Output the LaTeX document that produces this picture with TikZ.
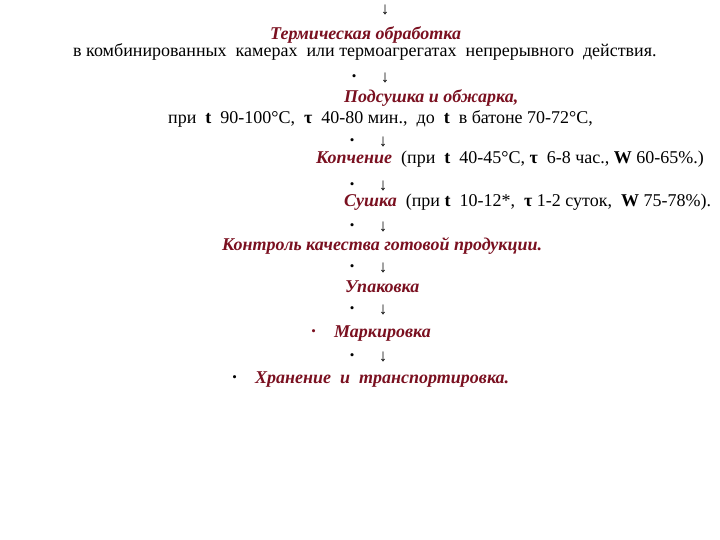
\documentclass[tikz,border=0pt]{standalone}
\usepackage{fontspec}
\setmainfont{Liberation Serif}
\usetikzlibrary{positioning}
\definecolor{maroon}{RGB}{122,16,32}
\tikzstyle{head} = [font=\fontsize{18}{20}\selectfont\bfseries\itshape, text=maroon, inner sep=0pt]
\tikzstyle{plain} = [font=\fontsize{18}{20}\selectfont, inner sep=0pt]
\tikzstyle{down} = [font=\fontsize{17}{19}\selectfont, inner sep=0pt]
\tikzstyle{dot} = [font=\fontsize{13}{15}\selectfont, inner sep=0pt, node distance=24pt]

\begin{document}
\begin{tikzpicture}[x=1pt, y=-1pt]
    \useasboundingbox (0,0) rectangle (720,540);
    \node [down] (a0) at (385,10) {↓};
    \node [head, anchor=base west] (T) at (270,40) {Термическая обработка};
    \node [plain, anchor=base west] (Tc) at (73,57) {в комбинированных\ \ камерах\ \ или термоагрегатах\ \ непрерывного\ \ действия.};
	%% Подсушка
    \node [down] (a1) at (385,78) {↓};
    \node [dot, left=of a1] (b1) {•};
    \node [head, anchor=base west] (P) at (344,103) {Подсушка и обжарка,};
    \node [plain, anchor=base west] (Pc) at (168,124) {при\ \ \textbf{t}\ \ 90-100°C,\ \ \textbf{τ}\ \ 40-80 мин.,\ \ до\ \ \textbf{t}\ \ в батоне 70-72°C,};
	%% Копчение
    \node [down] (a2) at (383,142) {↓};
    \node [dot, left=of a2] (b2) {•};
    \node [plain, anchor=base west] (K) at (316,164) {\textcolor{maroon}{\textbf{\textit{Копчение}}}\ \ (при\ \ \textbf{t}\ \ 40-45°C, \textbf{τ}\ \ 6-8 час., \textbf{W} 60-65\%.)};
	%% Сушка
    \node [down] (a3) at (383,186) {↓};
    \node [dot, left=of a3] (b3) {•};
    \node [plain, anchor=base west] (S) at (344,207) {\textcolor{maroon}{\textbf{\textit{Сушка}}}\ \ (при \textbf{t}\ \ 10-12*,\ \ \textbf{τ} 1-2 суток,\ \ \textbf{W} 75-78\%).};
	%% Контроль
    \node [down] (a4) at (383,227) {↓};
    \node [dot, left=of a4] (b4) {•};
    \node [head, anchor=base west] (C) at (222,250) {Контроль качества готовой продукции.};
	%% Упаковка
    \node [down] (a5) at (383,268) {↓};
    \node [dot, left=of a5] (b5) {•};
    \node [head, anchor=base west] (U) at (345,292) {Упаковка};
	%% Маркировка
    \node [down] (a6) at (383,310) {↓};
    \node [dot, left=of a6] (b6) {•};
    \node [head, anchor=base west] (M) at (334,337) {Маркировка};
    \node [dot, text=maroon, left=18pt of M.west] (bM) {•};
	%% Хранение
    \node [down] (a7) at (383,357) {↓};
    \node [dot, left=of a7] (b7) {•};
    \node [head, anchor=base west] (H) at (255,383) {Хранение\ \ и\ \ транспортировка.};
    \node [dot, left=18pt of H.west] (bH) {•};
\end{tikzpicture}
\end{document}
